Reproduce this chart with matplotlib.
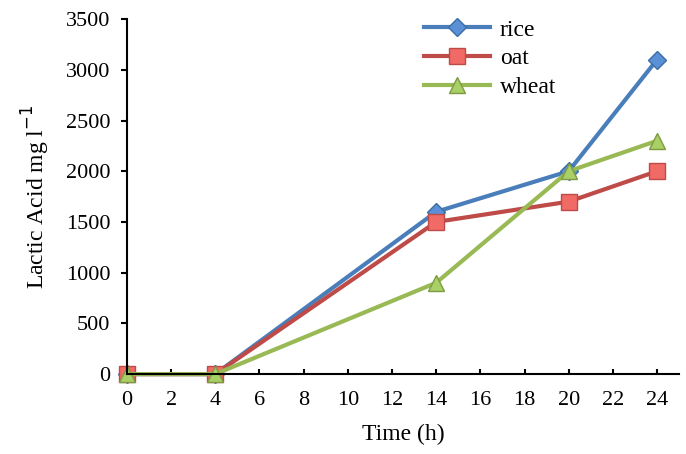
import matplotlib.pyplot as plt

time = [0, 4, 14, 20, 24]
rice = [0, 0, 1600, 2000, 3100]
oat = [0, 0, 1500, 1700, 2000]
wheat = [0, 0, 900, 2000, 2300]

plt.rcParams['font.family'] = ['Liberation Serif', 'DejaVu Serif']
fig = plt.figure(figsize=(6.86, 4.54), dpi=100)
ax = fig.add_axes([0.185, 0.176, 0.805, 0.782])

ax.plot(time, rice, color='#4a7ebb', lw=3, marker='D', ms=9, mfc='#5b8fd6', mec='#3a6ea5', label='rice', clip_on=False)
ax.plot(time, oat, color='#be4b48', lw=3, marker='s', ms=11, mfc='#f06b66', mec='#be4b48', label='oat', clip_on=False)
ax.plot(time, wheat, color='#98b954', lw=3, marker='^', ms=11, mfc='#a9d066', mec='#7e9a42', label='wheat', clip_on=False)

ax.set_xlim(0, 25)
ax.set_ylim(0, 3500)
ax.set_xticks(range(0, 25, 2))
ax.set_yticks(range(0, 3501, 500))
ax.spines['top'].set_visible(False)
ax.spines['right'].set_visible(False)
ax.spines['left'].set_linewidth(1.5)
ax.spines['bottom'].set_linewidth(1.5)
ax.tick_params(labelsize=16, width=1.5)
ax.tick_params(axis='x', direction='in', pad=12)
ax.tick_params(axis='y', direction='out', length=4, pad=8)
ax.set_xlabel('Time (h)', fontsize=17, labelpad=10)
ax.set_ylabel('Lactic Acid mg l$^{-1}$', fontsize=17, labelpad=10)
ax.legend(loc='upper left', bbox_to_anchor=(0.5, 1.06), frameon=False, fontsize=17,
          handlelength=2.8, labelspacing=0.3, handletextpad=0.4)
fig.savefig('out.png')
